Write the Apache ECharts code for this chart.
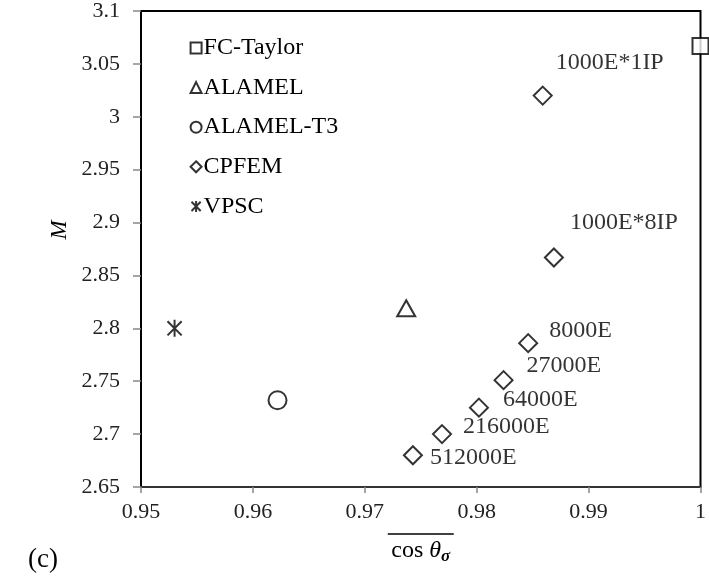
<!DOCTYPE html>
<html>
<head>
<meta charset="utf-8">
<script src="https://cdn.jsdelivr.net/npm/echarts@6/dist/echarts.min.js"></script>
<style>
  html, body { margin: 0; padding: 0; background: #fff; }
  #chart { width: 709px; height: 585px; }
</style>
</head>
<body>
<div id="chart"></div>
<script>
// values
var fcTaylor = [[1.0, 3.067]];
var alamel = [[0.9737, 2.819]];
var alamelT3 = [[0.9622, 2.732]];
var vpsc = [[0.9530, 2.8]];
var cpfemNames = ['1000E*1IP', '1000E*8IP', '8000E', '27000E', '64000E', '216000E', '512000E'];
var cpfemX = [0.9859, 0.9869, 0.9846, 0.9824, 0.9802, 0.9769, 0.9743];
var cpfemY = [3.020, 2.867, 2.786, 2.751, 2.725, 2.700, 2.680];
var xTicks = [0.95, 0.96, 0.97, 0.98, 0.99, 1];
var yTicks = [2.65, 2.7, 2.75, 2.8, 2.85, 2.9, 2.95, 3, 3.05, 3.1];

// where each CPFEM label sits relative to its marker
var labelOffsets = [[-2, -33], [1, -35], [6, -12], [8, -14], [9, -8], [6, -7], [2, 2]];

var serif = '"Liberation Serif", "DejaVu Serif", serif';
var starPath = 'path://M0,0L10,10M10,0L0,10M5,-1L5,11';

var chart = echarts.init(document.getElementById('chart'));

var cpfemData = cpfemX.map(function (x, i) {
    return {
        value: [x, cpfemY[i]],
        name: cpfemNames[i],
        label: { offset: labelOffsets[i] }
    };
});

var marker = { color: '#fff', borderColor: '#000', borderWidth: 2 };

var option = {
    backgroundColor: '#fff',
    animation: false,
    textStyle: { fontFamily: serif },
    title: {
        text: '(c)',
        left: 28,
        top: 546,
        padding: 0,
        textStyle: { fontFamily: serif, fontSize: 27, fontWeight: 'normal', color: '#000' }
    },
    graphic: [{
        type: 'text',
        x: 60,
        y: 230,
        rotation: Math.PI / 2,
        style: {
            text: 'M', fontFamily: serif, fontSize: 23, fontStyle: 'italic',
            fill: '#000', align: 'center', verticalAlign: 'middle'
        }
    }],
    legend: {
        orient: 'vertical',
        left: 184,
        top: 31,
        itemWidth: 11,
        itemHeight: 11,
        itemGap: 15.6,
        textStyle: { fontFamily: serif, fontSize: 24, lineHeight: 24, color: '#000', padding: [0, 0, 0, -3] },
        data: ['FC-Taylor', 'ALAMEL', 'ALAMEL-T3', 'CPFEM', 'VPSC']
    },
    grid: {
        left: 141,
        right: 4,
        top: 10,
        bottom: 98,
        show: true,
        borderColor: '#000',
        borderWidth: 2
    },
    xAxis: {
        type: 'value',
        min: xTicks[0],
        max: xTicks[xTicks.length - 1],
        interval: 0.01,
        splitLine: { show: false },
        axisLine: { onZero: false, lineStyle: { color: '#333', width: 2 } },
        axisTick: { show: true, length: 6, lineStyle: { color: '#888', width: 1.5 } },
        axisLabel: {
            fontFamily: serif, fontSize: 22, color: '#222', margin: 14,
            formatter: function (v) { return String(+v.toFixed(2)); }
        },
        name: '{ol| }\n{t|cos }{th|θ}{s|σ}',
        nameLocation: 'middle',
        nameGap: 37,
        nameTextStyle: {
            rich: {
                ol: { width: 66, height: 1.5, backgroundColor: '#000', lineHeight: 6 },
                t: { fontFamily: serif, fontSize: 24, color: '#000', lineHeight: 25 },
                th: { fontFamily: serif, fontSize: 24, fontStyle: 'italic', color: '#000', lineHeight: 25 },
                s: { fontFamily: serif, fontSize: 17, fontStyle: 'italic', fontWeight: 'bold', color: '#000', verticalAlign: 'bottom', padding: [11, 0, 0, 0] }
            }
        }
    },
    yAxis: {
        type: 'value',
        min: yTicks[0],
        max: yTicks[yTicks.length - 1],
        interval: 0.05,
        splitLine: { show: false },
        axisLine: { onZero: false, lineStyle: { color: '#000', width: 2 } },
        axisTick: { show: true, length: 8, lineStyle: { color: '#888', width: 1.5 } },
        axisLabel: {
            fontFamily: serif, fontSize: 22, color: '#222', margin: 21,
            formatter: function (v) { return String(+v.toFixed(2)); }
        }
    },
    series: [
        {
            name: 'FC-Taylor', type: 'scatter', symbol: 'rect', symbolSize: 16,
            itemStyle: marker, data: fcTaylor, z: 5, clip: false
        },
        {
            name: 'ALAMEL', type: 'scatter', symbol: 'triangle', symbolSize: [18, 16],
            itemStyle: marker, data: alamel
        },
        {
            name: 'ALAMEL-T3', type: 'scatter', symbol: 'circle', symbolSize: 18,
            itemStyle: marker, data: alamelT3
        },
        {
            name: 'CPFEM', type: 'scatter', symbol: 'diamond', symbolSize: 18,
            itemStyle: marker, data: cpfemData,
            label: {
                show: true, position: 'right', distance: 5,
                fontFamily: serif, fontSize: 24, color: '#000',
                formatter: function (p) { return p.name; }
            }
        },
        {
            name: 'VPSC', type: 'scatter', symbol: starPath, symbolSize: 17, symbolKeepAspect: true,
            itemStyle: { color: 'none', borderColor: '#000', borderWidth: 2 }, data: vpsc
        }
    ]
};

chart.setOption(option);
</script>
</body>
</html>
